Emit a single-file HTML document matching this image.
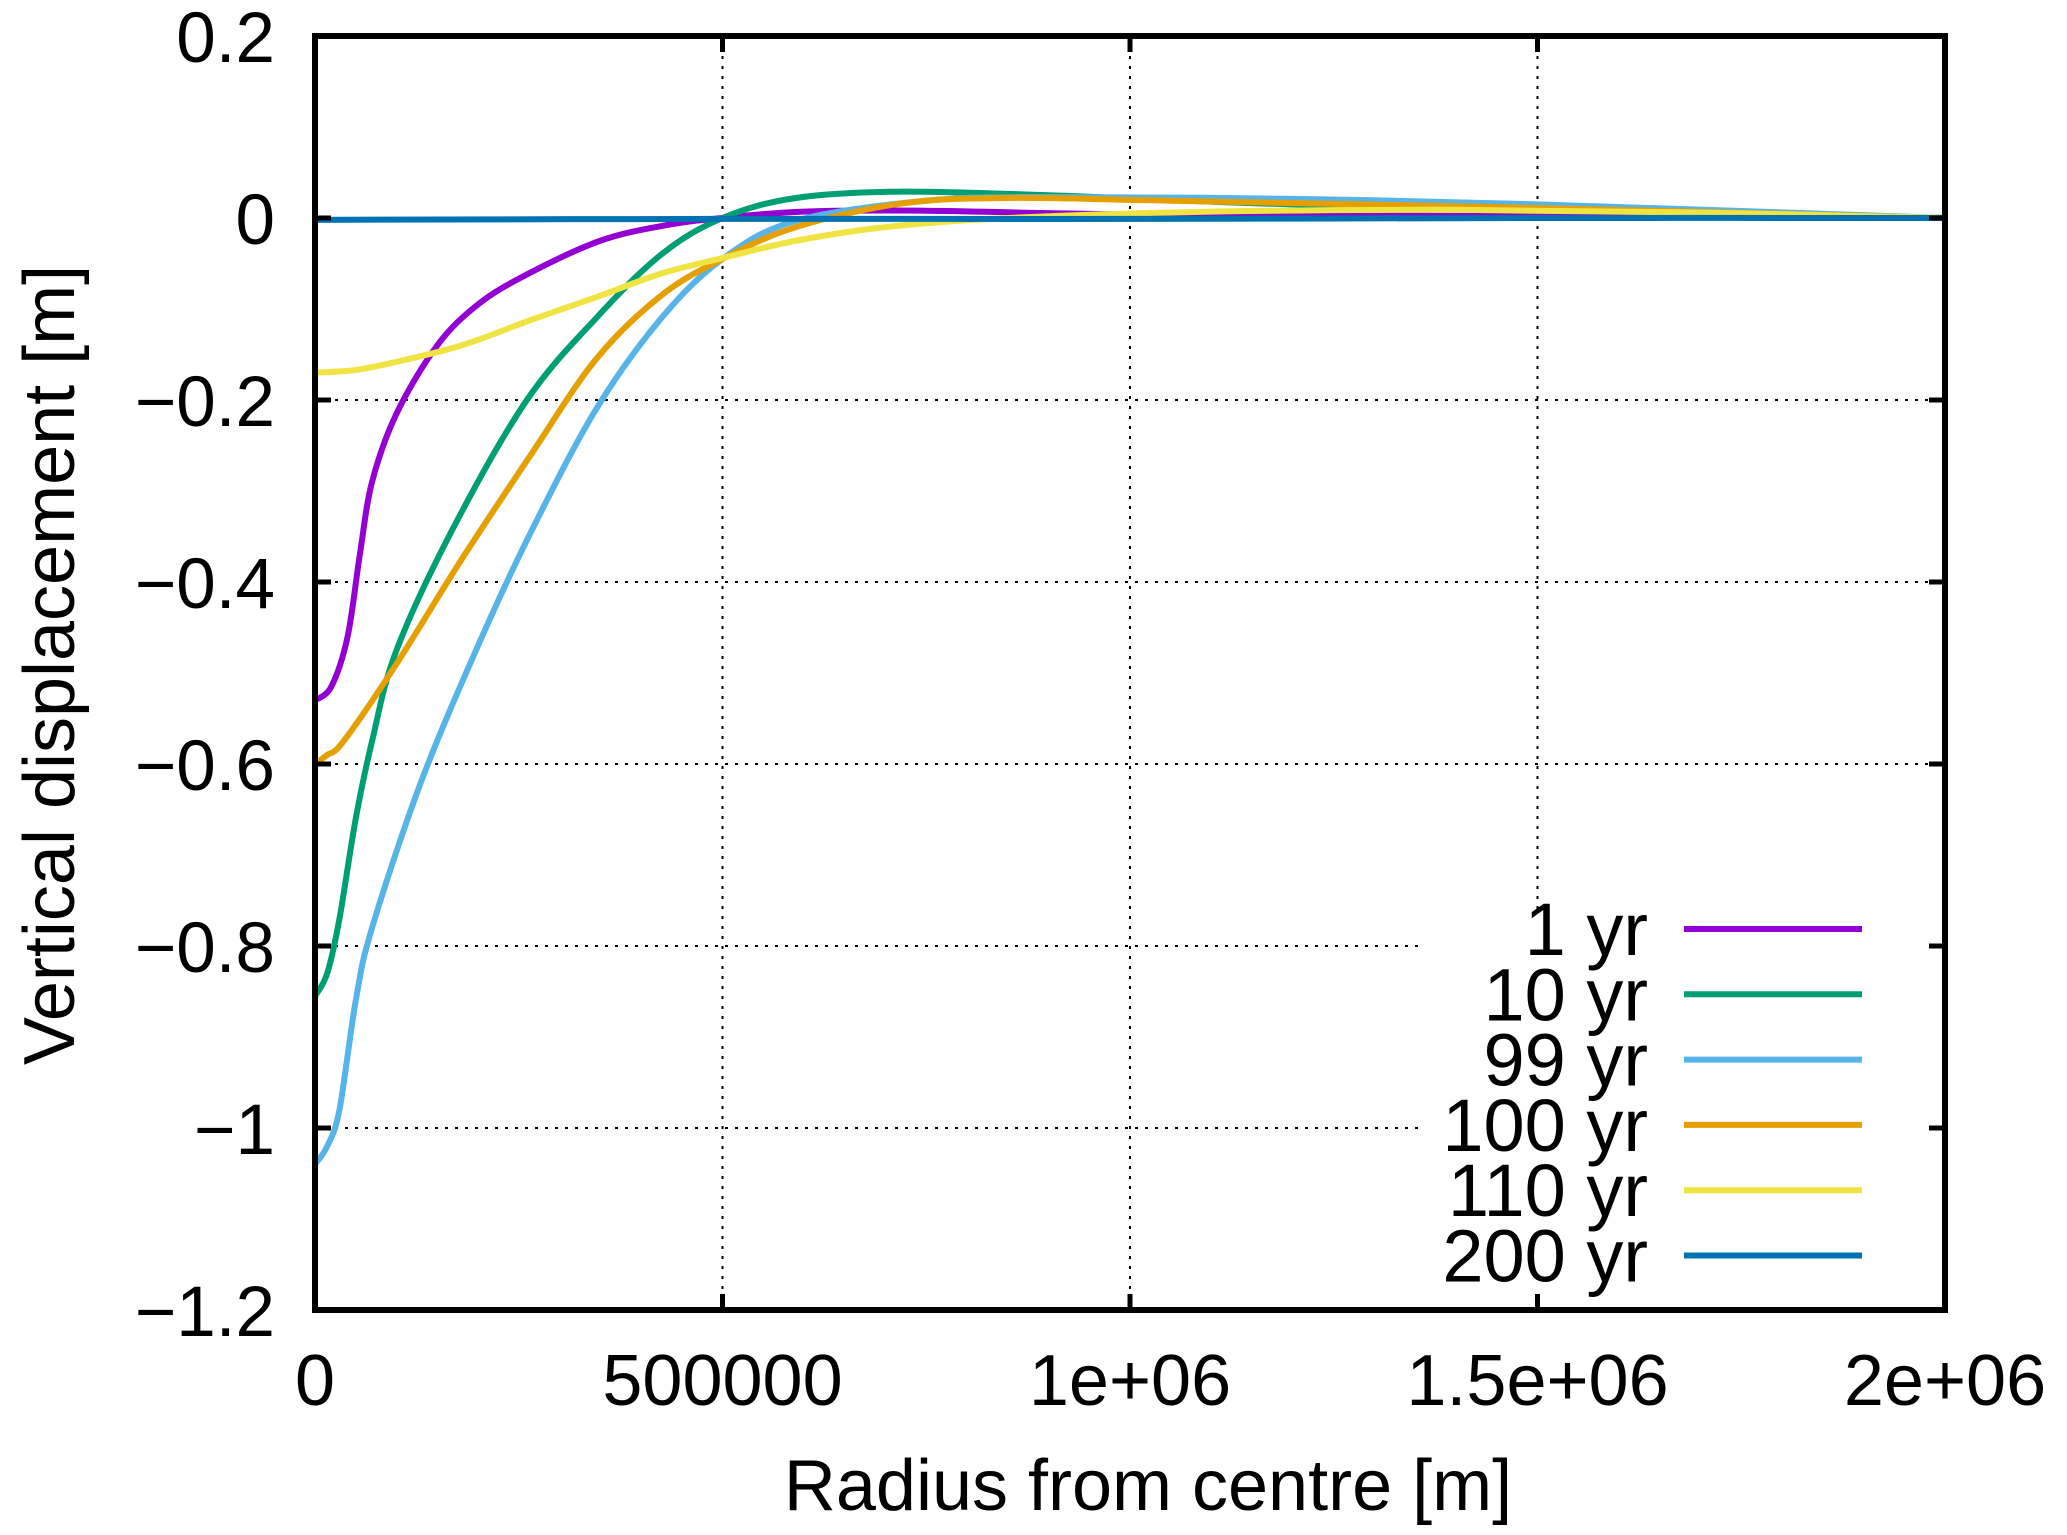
<!DOCTYPE html>
<html><head><meta charset="utf-8">
<style>
html,body{margin:0;padding:0;background:#fff;}
svg{display:block;font-family:"Liberation Sans",sans-serif;}
</style></head>
<body>
<svg id="chart" width="2067" height="1535" viewBox="0 0 2067 1535" xmlns="http://www.w3.org/2000/svg">
<rect width="2067" height="1535" fill="#fff"/>
<g id="grid"></g>
<g id="series"></g>
<rect x="1418" y="916" width="524" height="392" fill="#fff"/>
<g id="legend"></g>
<g id="axes"></g>
<text transform="translate(74,665) rotate(-90)" text-anchor="middle" font-size="72">Vertical displacement [m]</text>
<text x="1148" y="1510" text-anchor="middle" font-size="72">Radius from centre [m]</text>
</svg>
<script>
const xTicks=[0,500000,1000000,1500000,2000000];
const xTickLabels=["0","500000","1e+06","1.5e+06","2e+06"];
const yTicks=[0.2,0,-0.2,-0.4,-0.6,-0.8,-1,-1.2];
const yTickLabels=["0.2","0","\u22120.2","\u22120.4","\u22120.6","\u22120.8","\u22121","\u22121.2"];
const seriesNames=["1 yr","10 yr","99 yr","100 yr","110 yr","200 yr"];
const seriesColors=["#9400d3","#009e73","#56b4e9","#e69f00","#f0e442","#0072b2"];
const x1yr=[0,20000,40000,55000,70000,100000,150000,200000,260000,350000,430000,500000,600000,750000,1000000,1500000,2000000];
const y1yr=[-0.53,-0.515,-0.46,-0.37,-0.29,-0.215,-0.14,-0.095,-0.062,-0.025,-0.008,0.0,0.007,0.008,0.004,0.002,0];
const x10yr=[0,15000,30000,50000,70000,100000,170000,260000,345000,425000,500000,590000,720000,900000,1200000,1600000,2000000];
const y10yr=[-0.855,-0.83,-0.77,-0.66,-0.575,-0.475,-0.34,-0.2,-0.11,-0.04,0,0.022,0.029,0.025,0.015,0.008,0];
const x99yr=[0,15000,30000,50000,70000,130000,200000,265000,345000,425000,500000,590000,750000,900000,1200000,1500000,2000000];
const y99yr=[-1.04,-1.02,-0.98,-0.86,-0.78,-0.62,-0.47,-0.345,-0.21,-0.11,-0.045,-0.003,0.019,0.023,0.021,0.015,0];
const x100yr=[0,15000,35000,100000,180000,265000,345000,425000,500000,590000,720000,850000,1050000,1500000,2000000];
const y100yr=[-0.6,-0.59,-0.575,-0.49,-0.375,-0.26,-0.155,-0.085,-0.045,-0.01,0.016,0.022,0.019,0.011,0];
const x110yr=[0,50000,100000,180000,265000,345000,425000,500000,590000,700000,850000,1100000,1400000,1700000,2000000];
const y110yr=[-0.17,-0.167,-0.158,-0.14,-0.112,-0.087,-0.061,-0.044,-0.025,-0.01,0.0,0.007,0.009,0.006,0];
const x200yr=[0,500000,1000000,1500000,2000000];
const y200yr=[-0.002,-0.001,-0.001,0,0];

const NS="http://www.w3.org/2000/svg";
const L=315,R=1945,T=36,B=1310;
const X0=0,X1=2000000,Y0=-1.2,Y1=0.2;
function sx(v){return L+(v-X0)/(X1-X0)*(R-L);}
function sy(v){return B-(v-Y0)/(Y1-Y0)*(B-T);}
function mk(tag,attrs,parent){const e=document.createElementNS(NS,tag);for(const k in attrs)e.setAttribute(k,attrs[k]);parent.appendChild(e);return e;}
const grid=document.getElementById('grid'),axes=document.getElementById('axes'),ser=document.getElementById('series'),leg=document.getElementById('legend');

xTicks.forEach((v,i)=>{
  const x=sx(v);
  if(i>0&&i<xTicks.length-1){
    const g=mk('line',{x1:x,x2:x,y1:T,y2:(v===1500000?916:B),stroke:'#000','stroke-width':2,'stroke-dasharray':'3,7'},grid);
    
    
  }
  const t=mk('line',{x1:x,x2:x,y1:B,y2:B-16,stroke:'#000','stroke-width':5},axes);
  
  
  const t2=mk('line',{x1:x,x2:x,y1:T,y2:T+16,stroke:'#000','stroke-width':5},axes);
  
  
  const lb=mk('text',{x:x,y:1405,'text-anchor':'middle','font-size':72},axes);
  lb.textContent=xTickLabels[i];
  
  
});
yTicks.forEach((v,i)=>{
  const y=sy(v);
  if(i>0&&i<yTicks.length-1){
    const g=mk('line',{x1:L,x2:(v<=-0.8?1418:R),y1:y,y2:y,stroke:'#000','stroke-width':2,'stroke-dasharray':'3,7'},grid);
    
    
  }
  const t=mk('line',{x1:L,x2:L+16,y1:y,y2:y,stroke:'#000','stroke-width':5},axes);
  
  
  const t2=mk('line',{x1:R,x2:R-16,y1:y,y2:y,stroke:'#000','stroke-width':5},axes);
  
  
  const lb=mk('text',{x:275,y:y+26,'text-anchor':'end','font-size':71},axes);
  lb.textContent=yTickLabels[i];
  
  
});
const frame=mk('rect',{x:L,y:T,width:R-L,height:B-T,fill:'none',stroke:'#000','stroke-width':6},axes);



function pathFor(xs,ys){
  const p=xs.map((x,i)=>[sx(x),sy(ys[i])]);
  let d='M'+p[0][0]+','+p[0][1];
  for(let i=0;i<p.length-1;i++){
    const p0=p[i-1]||p[i],p1=p[i],p2=p[i+1],p3=p[i+2]||p[i+1];
    const c1=[p1[0]+(p2[0]-p0[0])/6,p1[1]+(p2[1]-p0[1])/6];
    const c2=[p2[0]-(p3[0]-p1[0])/6,p2[1]-(p3[1]-p1[1])/6];
    d+=' C'+c1[0]+','+c1[1]+' '+c2[0]+','+c2[1]+' '+p2[0]+','+p2[1];
  }
  return d;
}
const xs=[x1yr,x10yr,x99yr,x100yr,x110yr,x200yr];
const ys=[y1yr,y10yr,y99yr,y100yr,y110yr,y200yr];
const keys=['1yr','10yr','99yr','100yr','110yr','200yr'];
xs.forEach((xa,i)=>{
  const p=mk('path',{d:pathFor(xa,ys[i]),fill:'none',stroke:seriesColors[i],'stroke-width':6,'stroke-linejoin':'round'},ser);
  
  
  const ly=929+65.3*i;
  const t=mk('text',{x:1648,y:ly+26,'text-anchor':'end','font-size':74},leg);
  t.textContent=seriesNames[i];
  
  
  const l=mk('line',{x1:1684,x2:1862,y1:ly,y2:ly,stroke:seriesColors[i],'stroke-width':6},leg);
  
  
});
</script>
</body></html>
